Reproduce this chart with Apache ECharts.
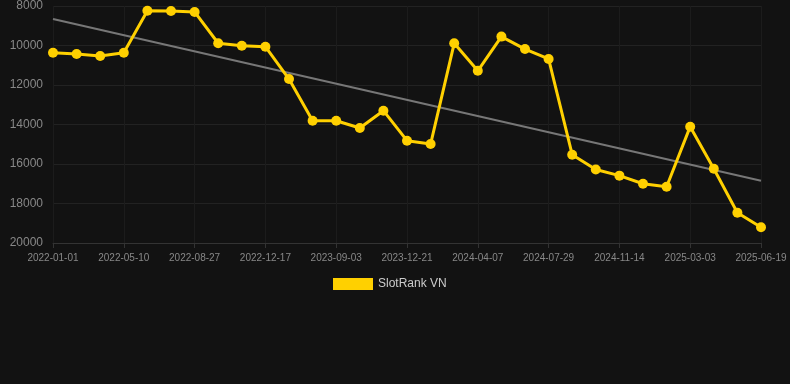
<!DOCTYPE html>
<html>
<head>
<meta charset="utf-8">
<script src="https://cdn.jsdelivr.net/npm/echarts@6/dist/echarts.min.js"></script>
<style>
html,body{margin:0;padding:0;background:#121212;}
#chart{width:790px;height:384px;}
</style>
</head>
<body>
<div id="chart"></div>
<script>
var categories = [
  '2022-01-01','2022-02-13','2022-03-28','2022-05-10','2022-06-22','2022-07-25',
  '2022-08-27','2022-09-23','2022-10-20','2022-12-17','2023-03-12','2023-06-07',
  '2023-09-03','2023-10-09','2023-11-14','2023-12-21','2024-01-26','2024-03-02',
  '2024-04-07','2024-05-14','2024-06-21','2024-07-29','2024-09-03','2024-10-09',
  '2024-11-14','2024-12-20','2025-01-25','2025-03-03','2025-04-08','2025-05-14',
  '2025-06-19'
];
var rankValues = [
  10365, 10430, 10530, 10365, 8240, 8255, 8300, 9885, 10010, 10060, 11700,
  13810, 13810, 14180, 13300, 14820, 14990, 9890, 11280, 9550, 10180,
  10680, 15530, 16280, 16590, 17000, 17150, 14110, 16240, 18470, 19200
];
var trendStart = 8658;
var trendEnd = 16845;
var yTicks = [8000, 20000, 2000];
var seriesName = 'SlotRank VN';

var trendData = categories.map(function (c, i) {
  if (i === 0) return trendStart;
  if (i === categories.length - 1) return trendEnd;
  return null;
});

var chart = echarts.init(document.getElementById('chart'));
chart.setOption({
  backgroundColor: '#121212',
  animation: false,
  grid: { left: 53, right: 29, top: 6, bottom: 141 },
  legend: {
    data: [{ name: seriesName, icon: 'rect' }],
    top: 278,
    left: 333,
    padding: 0,
    itemWidth: 40,
    itemHeight: 12,
    itemGap: 10,
    textStyle: { color: '#cccccc', fontSize: 12, fontFamily: 'Liberation Sans, Arial, sans-serif' }
  },
  xAxis: {
    type: 'category',
    data: categories,
    boundaryGap: false,
    axisLine: { lineStyle: { color: '#333333' } },
    axisTick: { show: true, interval: 2, lineStyle: { color: '#333333' } },
    axisLabel: { interval: 2, color: '#888888', fontSize: 10, margin: 10, fontFamily: 'Liberation Sans, Arial, sans-serif' },
    splitLine: { show: true, interval: 2, lineStyle: { color: '#1c1c1c' } }
  },
  yAxis: {
    type: 'value',
    inverse: true,
    min: yTicks[0],
    max: yTicks[1],
    interval: yTicks[2],
    axisLine: { show: false },
    axisTick: { show: false },
    axisLabel: { color: '#888888', fontSize: 12, margin: 10, fontFamily: 'Liberation Sans, Arial, sans-serif',
      formatter: function (v) { return String(v); } },
    splitLine: { lineStyle: { color: '#222222' } }
  },
  series: [
    {
      name: seriesName,
      type: 'line',
      data: rankValues,
      symbol: 'circle',
      symbolSize: 10,
      lineStyle: { color: '#FFD000', width: 3 },
      itemStyle: { color: '#FFD000' },
      z: 3
    },
    {
      name: 'trend',
      type: 'line',
      data: trendData,
      connectNulls: true,
      symbol: 'none',
      lineStyle: { color: '#777777', width: 2 },
      itemStyle: { color: '#777777' },
      z: 2,
      silent: true
    }
  ]
});
</script>
</body>
</html>
